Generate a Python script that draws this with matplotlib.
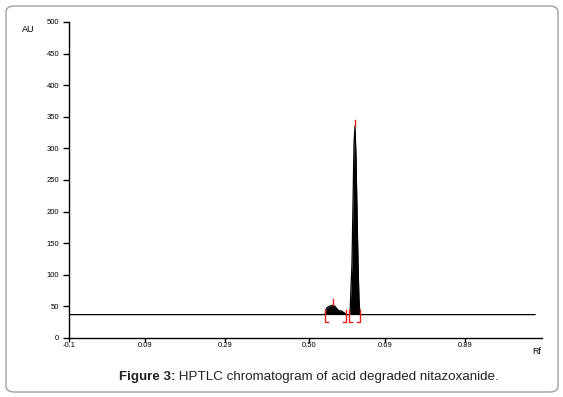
import matplotlib
matplotlib.use("Agg")
import matplotlib.pyplot as plt
from matplotlib.patches import FancyBboxPatch
import numpy as np

plt.rcParams['font.family'] = ['Liberation Sans', 'DejaVu Sans']

# Chromatogram trace (Rf, AU)
rf = [-0.1, 0.54, 0.5425, 0.545, 0.55, 0.555, 0.56, 0.565, 0.57, 0.575, 0.58, 0.585, 0.59, 0.595,
      0.6025, 0.605, 0.6075, 0.61, 0.6125, 0.615, 0.6175, 0.62, 0.6225, 0.625, 0.6275, 1.065]
au = [37, 37, 45, 48, 50, 51, 52, 50, 46, 43, 43, 41, 39, 37,
      37, 79, 119, 213, 308, 335, 286, 202, 119, 60, 37, 37]
baseline = 37

# Peak maxima and integration boundaries
peak_rf = [0.56, 0.615]
peak_au = [52, 335]
bound_left = [0.54, 0.60]
bound_right = [0.5925, 0.6275]

xticks = [-0.1, 0.09, 0.29, 0.50, 0.69, 0.89]
xticklabels = ['-0.1', '0.09', '0.29', '0.50', '0.69', '0.89']
yticks = [0, 50, 100, 150, 200, 250, 300, 350, 400, 450, 500]

fig = plt.figure(figsize=(5.63, 3.97), dpi=100)
# border
border = FancyBboxPatch((6/563, 5/397), (553-6)/563 + 5/563, (392-6)/397,
                        boxstyle="round,pad=0,rounding_size=0.015",
                        transform=fig.transFigure, fill=False,
                        edgecolor='#a0a0a0', linewidth=1.0)
fig.patches.append(border)

ax = fig.add_axes([69/563, 1-338/397, (542-69)/563, (338-22)/397])
ax.set_xlim(-0.1, 1.0825)
ax.set_ylim(0, 500)
for s in ['top', 'right']:
    ax.spines[s].set_visible(False)
for s in ['left', 'bottom']:
    ax.spines[s].set_linewidth(1.0)
    ax.spines[s].set_color('black')

ax.fill_between(rf, baseline, au, color='black', linewidth=0)
ax.plot(rf, au, color='black', linewidth=0.9)

# red markers
for x, y in zip(peak_rf, peak_au):
    ax.plot([x, x], [y, y + 10], color='#e0201a', linewidth=1.0)
foot = 0.008
for x in bound_left:
    ax.plot([x + foot, x, x], [25, 25, 44], color='#e0201a', linewidth=1.0)
for x in bound_right:
    ax.plot([x - foot, x, x], [25, 25, 44], color='#e0201a', linewidth=1.0)

ax.set_xticks(xticks)
ax.set_xticklabels(xticklabels)
ax.set_yticks(yticks)
ax.tick_params(axis='y', labelsize=5.5, length=4, width=1.0, pad=3, colors='black')
ax.tick_params(axis='x', labelsize=5.5, length=3, width=1.0, pad=0, colors='black')

fig.text(28/563, 1-29/397, 'AU', fontsize=6.5, ha='center', va='center')
fig.text(537/563, 1-352/397, 'Rf', fontsize=6.5, ha='center', va='center')

# caption with bold prefix
fig.canvas.draw()
r = fig.canvas.get_renderer()
t1 = fig.text(0, 1-377/397, 'Figure 3:', fontsize=9.6, fontweight='bold', color='#222222', va='center')
t2 = fig.text(0, 1-377/397, ' HPTLC chromatogram of acid degraded nitazoxanide.', fontsize=9.6,
              color='#222222', va='center')
w1 = t1.get_window_extent(r).width
w2 = t2.get_window_extent(r).width
total = w1 + w2
x0 = 309 - total / 2
t1.set_x(x0 / 563)
t2.set_x((x0 + w1) / 563)

fig.savefig('out.png', dpi=100)
